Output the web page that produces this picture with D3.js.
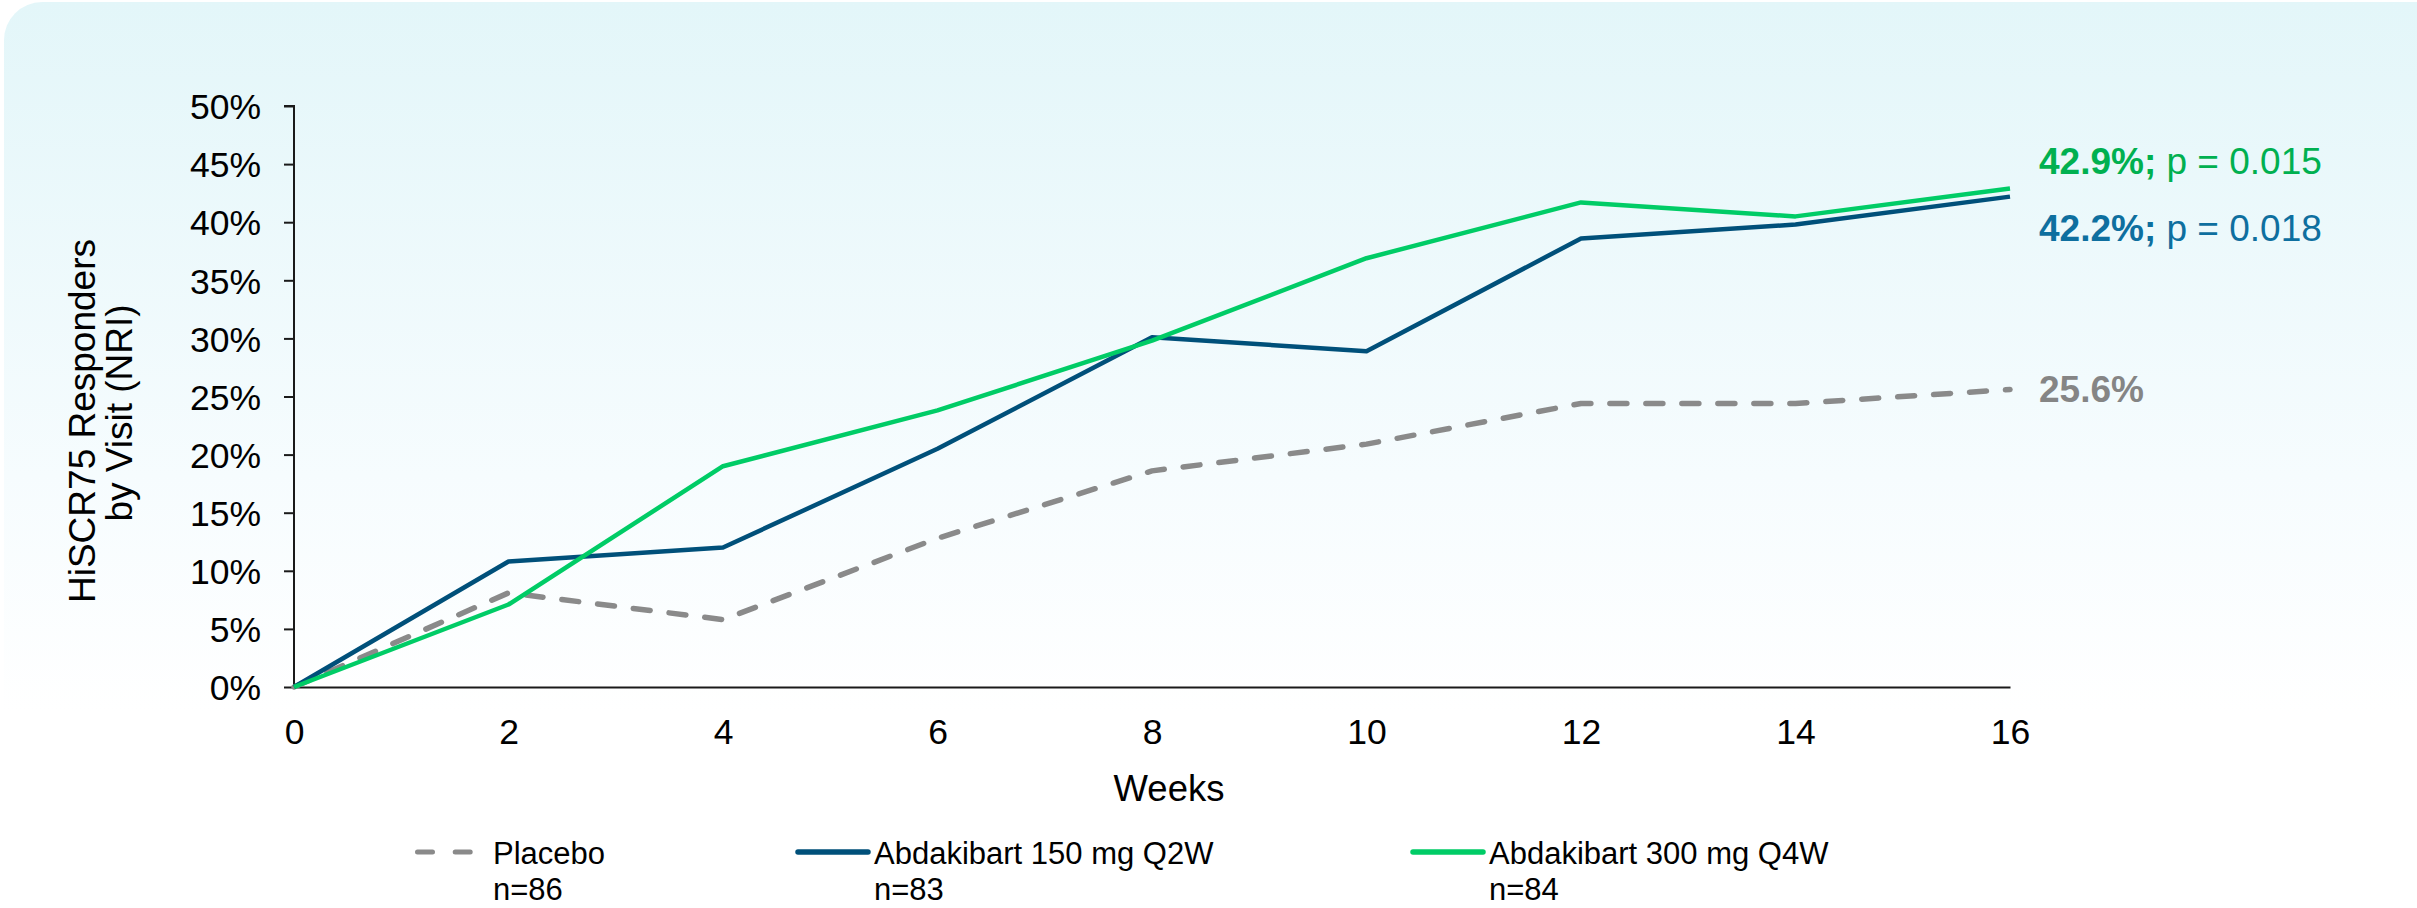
<!DOCTYPE html>
<html>
<head>
<meta charset="utf-8">
<script src="https://cdn.jsdelivr.net/npm/d3@7"></script>
<style>
  html, body { margin: 0; padding: 0; background: #ffffff; }
  svg { display: block; }
  text { font-family: "Liberation Sans", Arial, sans-serif; }
</style>
</head>
<body>
<svg id="chart" width="2417" height="908"></svg>
<script>
// Weeks on the x axis
const weeks = [0, 2, 4, 6, 8, 10, 12, 14, 16];

// HiSCR75 responder rates (%) by visit, non-responder imputation
const placebo = [0, 8.1, 5.8, 12.8, 18.6, 20.9, 24.4, 24.4, 25.6];
const abd150 = [0, 10.8, 12.0, 20.5, 30.1, 28.9, 38.6, 39.8, 42.2];
const abd300 = [0, 7.1, 19.0, 23.8, 29.8, 36.9, 41.7, 40.5, 42.9];

// Axis ticks
const yTicks = [0, 5, 10, 15, 20, 25, 30, 35, 40, 45, 50];
const xTicks = [0, 2, 4, 6, 8, 10, 12, 14, 16];

// Series names, group sizes and end-of-study p values
const seriesNames = ["Placebo", "Abdakibart 150 mg Q2W", "Abdakibart 300 mg Q4W"];
const seriesN = ["n=86", "n=83", "n=84"];
const pValues = [null, "0.018", "0.015"];

const W = 2417, H = 908;
const svg = d3.select("#chart");

// Card background with a soft cyan wash fading to white
const defs = svg.append("defs");
const grad = defs.append("linearGradient")
  .attr("id", "bg").attr("x1", 0).attr("y1", 0).attr("x2", 0).attr("y2", 1);
grad.append("stop").attr("offset", "0%").attr("stop-color", "#e3f6f9");
grad.append("stop").attr("offset", "50%").attr("stop-color", "#f6fcfe");
grad.append("stop").attr("offset", "75%").attr("stop-color", "#ffffff");
svg.append("rect").attr("x", 4).attr("y", 2).attr("width", W + 40).attr("height", H + 40)
  .attr("rx", 38).attr("ry", 38).attr("fill", "url(#bg)");

const x = d3.scaleLinear().domain([0, 16]).range([294, 2010]);
const y = d3.scaleLinear().domain([0, 50]).range([687, 106]);

const series = [
  { name: seriesNames[0], n: seriesN[0], values: placebo, color: "#8a8a8a", width: 5.5, dash: "17,19", labelColor: "#858585", p: pValues[0] },
  { name: seriesNames[1], n: seriesN[1], values: abd150, color: "#00507a", width: 4.5, dash: null, labelColor: "#0e6f9f", p: pValues[1] },
  { name: seriesNames[2], n: seriesN[2], values: abd300, color: "#00cc66", width: 4.5, dash: null, labelColor: "#00b050", p: pValues[2] }
];

// Y axis
const yAxis = svg.append("g")
  .attr("transform", `translate(${x(0)},0)`)
  .call(d3.axisLeft(y).tickValues(yTicks).tickFormat(d => d + "%").tickSize(10).tickPadding(23));
yAxis.select(".domain").attr("stroke", "#1a1a1a").attr("stroke-width", 2).attr("d", `M-10,${y(50)}H0V${y(0)}`);
yAxis.selectAll(".tick line").attr("stroke", "#1a1a1a").attr("stroke-width", 2);
yAxis.selectAll(".tick text").attr("font-size", 35.5).attr("fill", "#000").attr("dy", "0.36em")
  .style("font-family", "'Liberation Sans', Arial, sans-serif");

// X axis
const xAxis = svg.append("g")
  .attr("transform", `translate(0,${y(0)})`)
  .call(d3.axisBottom(x).tickValues(xTicks).tickFormat(d3.format("d")).tickSize(0).tickPadding(32));
xAxis.select(".domain").attr("stroke", "#1a1a1a").attr("stroke-width", 2);
xAxis.selectAll(".tick text").attr("font-size", 35.5).attr("fill", "#000")
  .style("font-family", "'Liberation Sans', Arial, sans-serif");

// Axis titles
svg.append("text").attr("x", 1169).attr("y", 801).attr("text-anchor", "middle")
  .attr("font-size", 36.5).attr("fill", "#000").text("Weeks");

const yTitle = svg.append("text")
  .attr("transform", "translate(95,418) rotate(-90)")
  .attr("text-anchor", "middle").attr("font-size", 37).attr("fill", "#000");
yTitle.append("tspan").attr("x", -3).attr("y", 0).text("HiSCR75 Responders");
yTitle.append("tspan").attr("x", 5).attr("y", 37).text("by Visit (NRI)");

// Lines
const line = d3.line().x((d, i) => x(weeks[i])).y(d => y(d));
series.forEach(s => {
  svg.append("path")
    .datum(s.values)
    .attr("fill", "none")
    .attr("stroke", s.color)
    .attr("stroke-width", s.width)
    .attr("stroke-linejoin", "round")
    .attr("stroke-linecap", s.dash ? "round" : "butt")
    .attr("stroke-dasharray", s.dash)
    .attr("d", line);
});

// End-of-study value labels
const last = weeks.length - 1;
const labelOffsets = [12, 44, -15];
series.forEach((s, i) => {
  const v = s.values[last];
  const t = svg.append("text")
    .attr("x", x(weeks[last]) + 29)
    .attr("y", y(v) + labelOffsets[i])
    .attr("font-size", 37)
    .attr("fill", s.labelColor);
  t.append("tspan").attr("font-weight", "bold").text(v.toFixed(1) + "%" + (s.p ? ";" : ""));
  if (s.p) t.append("tspan").text(" p = " + s.p);
});

// Legend
const legendX = [416, 798, 1413];
series.forEach((s, i) => {
  const g = svg.append("g").attr("transform", `translate(${legendX[i]},852)`);
  g.append("line")
    .attr("x1", s.dash ? 1.5 : 0).attr("x2", s.dash ? 54.2 : 70)
    .attr("y1", 0).attr("y2", 0)
    .attr("stroke", s.color)
    .attr("stroke-width", s.dash ? 5 : 5.5)
    .attr("stroke-linecap", "round")
    .attr("stroke-dasharray", s.dash ? "15,22.7" : null);
  const tx = s.dash ? 77 : 76;
  g.append("text").attr("x", tx).attr("y", 12).attr("font-size", 31).attr("fill", "#000").text(s.name);
  g.append("text").attr("x", tx).attr("y", 48).attr("font-size", 31).attr("fill", "#000").text(s.n);
});
</script>
</body>
</html>
